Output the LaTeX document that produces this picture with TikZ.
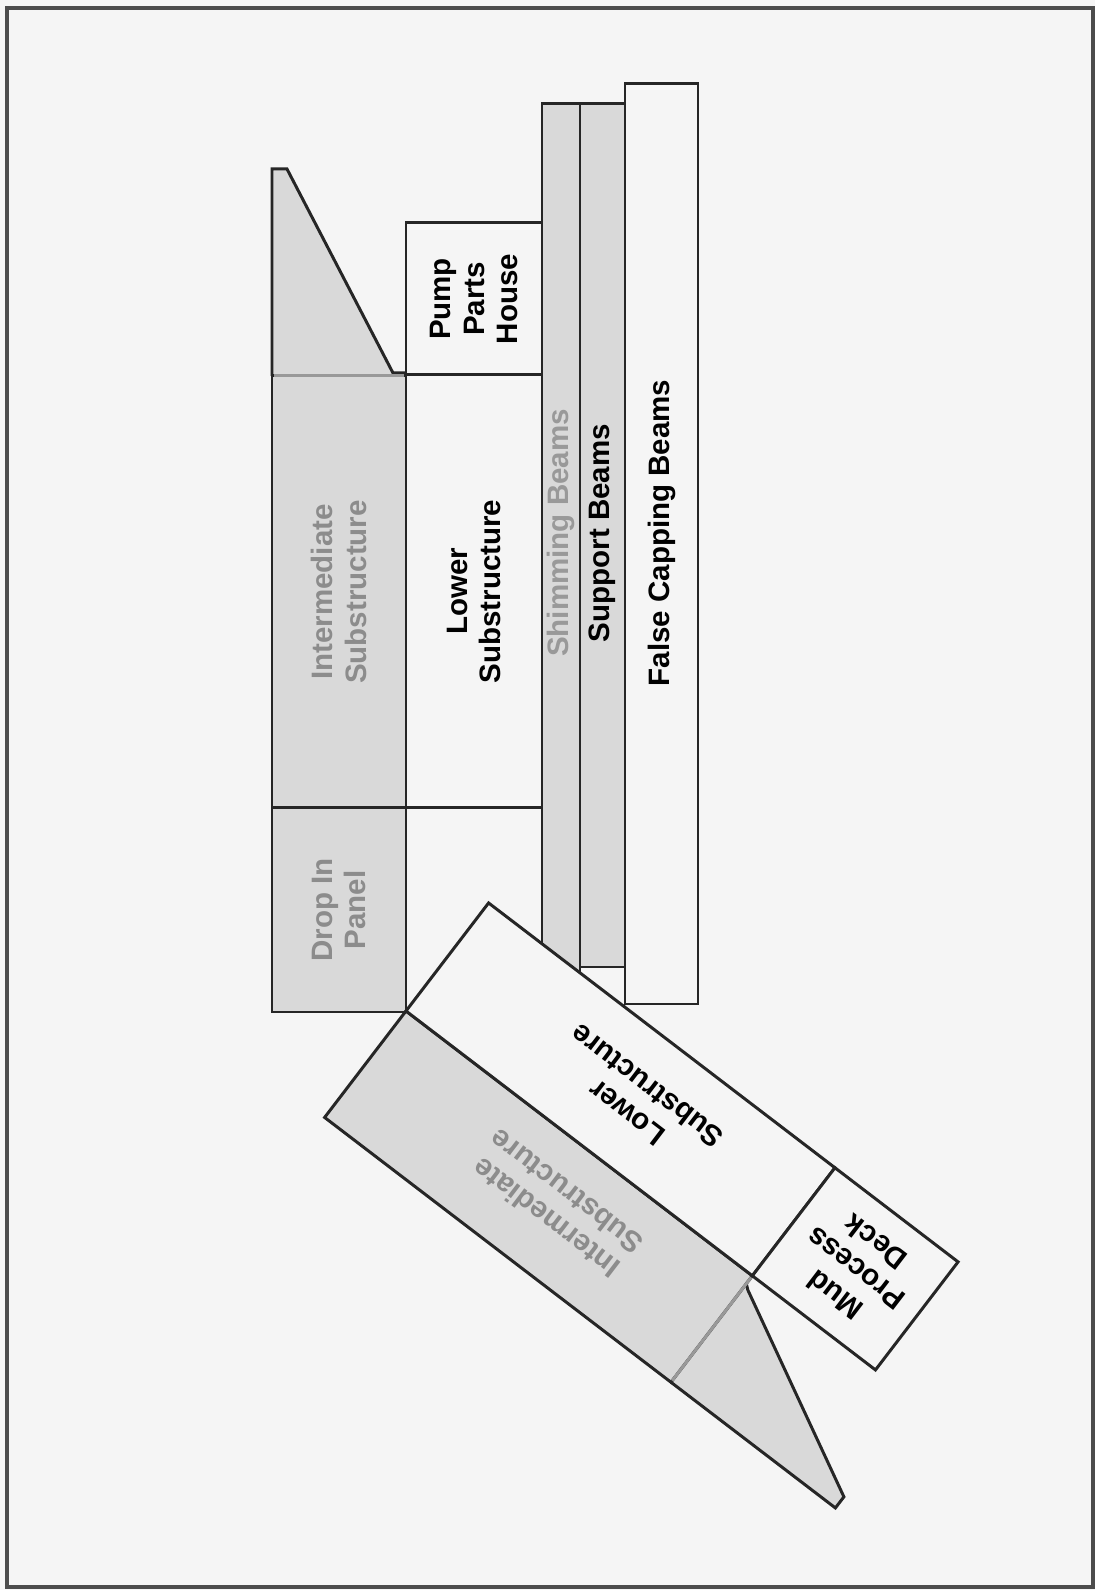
\documentclass[tikz,border=0pt]{standalone}
\usepackage{fontspec}
\setmainfont{Liberation Sans}
\newcommand\partfont{\fontsize{8.4}{9.5}\selectfont\bfseries}
\colorlet{paper}{black!4}
\tikzset{
  panel/.style={draw=black!85, line width=0.85pt, inner sep=0pt, align=center, font=\partfont},
  plain/.style={panel, fill=paper},
  shaded/.style={panel, fill=black!15, text=black!45},
  beam/.style={draw=black!85, line width=0.85pt},
  divider/.style={draw=black!40, line width=0.85pt},
  caption/.style={font=\partfont, align=center, inner sep=0pt},
  beam text/.style={caption, rotate=90},
}

\begin{document}
\begin{tikzpicture}
  \useasboundingbox (0,0) rectangle (10.95,15.90);
  \fill[paper] (0,0) rectangle (10.95,15.90);
  \draw[black!70, line width=1.2pt] (0.07,0.03) rectangle (10.93,15.82);

  % beams
  \draw[beam, fill=black!15] (5.42,5.90) rectangle (5.80,14.86);
  \draw[beam, fill=black!15] (5.80,6.23) rectangle (6.25,14.86);
  \draw[beam, fill=paper]    (6.25,5.86) rectangle (6.98,15.06);
  \node[beam text, text=black!40] (shimming) at (5.61,10.57)  {Shimming Beams};
  \node[beam text]                (support)  at (6.025,10.57) {Support Beams};
  \node[beam text]                (capping)  at (6.615,10.57) {False Capping Beams};

  % upright stack
  \fill[black!15] (2.72,12.14) -- (2.72,14.21) -- (2.87,14.21) -- (3.93,12.17) -- (4.06,12.17) -- (4.06,12.14) -- cycle;
  \draw[beam] (2.72,12.14) -- (2.72,14.21) -- (2.87,14.21) -- (3.93,12.17) -- (4.06,12.17);
  \node[shaded, rotate=90, minimum width=4.32cm, minimum height=1.34cm] (inter)  at (3.39,9.98)  {Intermediate\\Substructure};
  \node[shaded, rotate=90, minimum width=2.04cm, minimum height=1.34cm] (dropin) at (3.39,6.80)  {Drop In\\Panel};
  \node[plain,  rotate=90, minimum width=1.52cm, minimum height=1.36cm] (pump)   at (4.74,12.91) {Pump\\Parts\\House};
  \node[plain,  rotate=90, minimum width=4.33cm, minimum height=1.36cm] (lower)  at (4.74,9.985) {Lower\\Substructure};
  \draw[divider] (2.74,12.14) -- (4.04,12.14);

  % tilted stack
  \begin{scope}[shift={(4.06,5.79)}, rotate=-37.4, transform shape]
    \fill[black!15] (4.36,-1.34) -- (6.43,-1.34) -- (6.43,-1.20) -- (4.41,-0.14) -- (4.36,-0.14) -- cycle;
    \draw[beam] (4.36,-1.34) -- (6.43,-1.34) -- (6.43,-1.20) -- (4.41,-0.14) -- (4.36,-0.10);
    \node[shaded, rotate=180, minimum width=4.36cm, minimum height=1.34cm] (interB) at (2.18,-0.67) {};
    \node[plain,  rotate=180, minimum width=4.36cm, minimum height=1.36cm] (lowerB) at (2.18,0.68)  {};
    \node[plain,  rotate=180, minimum width=1.55cm, minimum height=1.36cm] (mud)    at (5.135,0.68) {Mud\\Process\\Deck};
    \node[caption, rotate=180, text=black!45] (interBtext) at (2.37,-0.63) {Intermediate\\Substructure};
    \node[caption, rotate=180]                (lowerBtext) at (2.37,0.70)  {Lower\\Substructure};
    \draw[divider] (4.36,-1.32) -- (4.36,-0.02);
  \end{scope}
\end{tikzpicture}
\end{document}
